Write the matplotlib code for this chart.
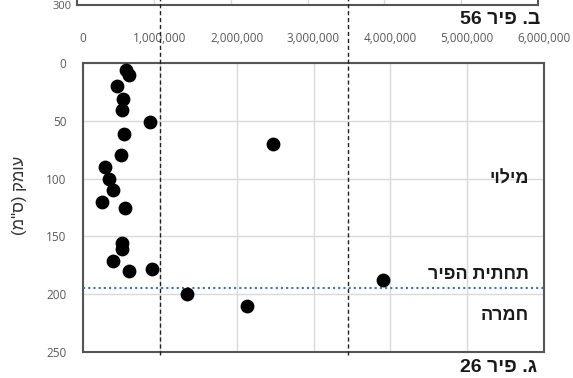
import matplotlib
matplotlib.use("Agg")
import matplotlib.pyplot as plt

# particle counts (x) vs depth in cm (y)
counts = [560000, 600000, 447000, 517000, 504000, 872000, 534000, 2470000,
          490000, 280000, 340000, 395000, 243000, 542000, 504000, 504000,
          395000, 600000, 900000, 1350000, 2140000, 3900000]
depth = [6, 10, 20, 31, 41, 51, 61, 70,
         80, 90, 100, 110, 120, 125, 156, 161,
         171, 180, 178, 200, 210, 188]

x_ticks = [0, 1000000, 2000000, 3000000, 4000000, 5000000, 6000000]
y_ticks = [0, 50, 100, 150, 200, 250]
dashed_x = [1000000, 3450000]
shaft_bottom = 195


def heb(s):
    # matplotlib has no bidi, so flip to visual order
    return s[::-1]


tick_color = "#595959"
fig = plt.figure(figsize=(5.73, 3.78), dpi=100)

# strip of the panel above (only its bottom edge shows)
top = fig.add_axes([77 / 573, 1 - 5 / 378, 461 / 573, 0.3])
top.set_xlim(0, 6000000)
top.set_ylim(300, 0)
top.set_xticks([1000000, 2000000, 3000000, 4000000, 5000000])
top.set_xticklabels([])
top.tick_params(length=0)
top.set_yticks([300])
top.set_yticklabels(["300"], fontsize=8, color=tick_color, family="Open Sans")
top.grid(axis="x", color="#d9d9d9", lw=1)
for s in top.spines.values():
    s.set_color("#555555")
    s.set_linewidth(1.5)

ax = fig.add_axes([83 / 573, 26 / 378, 461 / 573, 289 / 378])
ax.scatter(counts, depth, s=80, color="black", zorder=4, clip_on=False)
ax.set_xlim(0, 6000000)
ax.set_ylim(250, 0)
ax.xaxis.tick_top()
ax.set_xticks(x_ticks)
ax.set_xticklabels([f"{v:,}" for v in x_ticks])
ax.set_yticks(y_ticks)
ax.tick_params(length=0, labelsize=8.5, labelcolor=tick_color)
ax.tick_params(axis="x", pad=13)
ax.tick_params(axis="y", pad=12)
for lbl in ax.get_xticklabels() + ax.get_yticklabels():
    lbl.set_family("Open Sans")
ax.grid(color="#d9d9d9", lw=1)
ax.set_axisbelow(True)
for s in ax.spines.values():
    s.set_color("#555555")
    s.set_linewidth(1.5)

for xv in dashed_x:
    ax.axvline(xv, ymin=-0.01, ymax=1.22, color="#222222", ls=(0, (3, 2)),
               lw=1, clip_on=False, zorder=3)
ax.axhline(shaft_bottom, color="#4a6cb0", ls=(0, (1, 1.5)), lw=1.5, zorder=3)

bold = dict(family="Liberation Sans", fontweight="bold", color="#1a1a1a")
ax.text(5800000, 100, heb("מילוי"), ha="right", va="center", fontsize=13, **bold)
ax.text(5800000, 183, heb("תחתית הפיר"), ha="right", va="center", fontsize=13, **bold)
ax.text(5800000, 218, heb("חמרה"), ha="right", va="center", fontsize=13, **bold)

fig.text(537 / 573, 1 - 368 / 378, "26 ריפ .ג", ha="right", va="center",
         fontsize=14, **bold)
fig.text(540 / 573, 1 - 20 / 378, "56 ריפ .ב", ha="right", va="center",
         fontsize=14, **bold)
fig.text(20 / 573, 1 - 195 / 378, '(מ"ס) קמוע', rotation=90, ha="center",
         va="center", fontsize=12, family="Liberation Sans", color="#333333")

fig.savefig("out.png", dpi=100)
